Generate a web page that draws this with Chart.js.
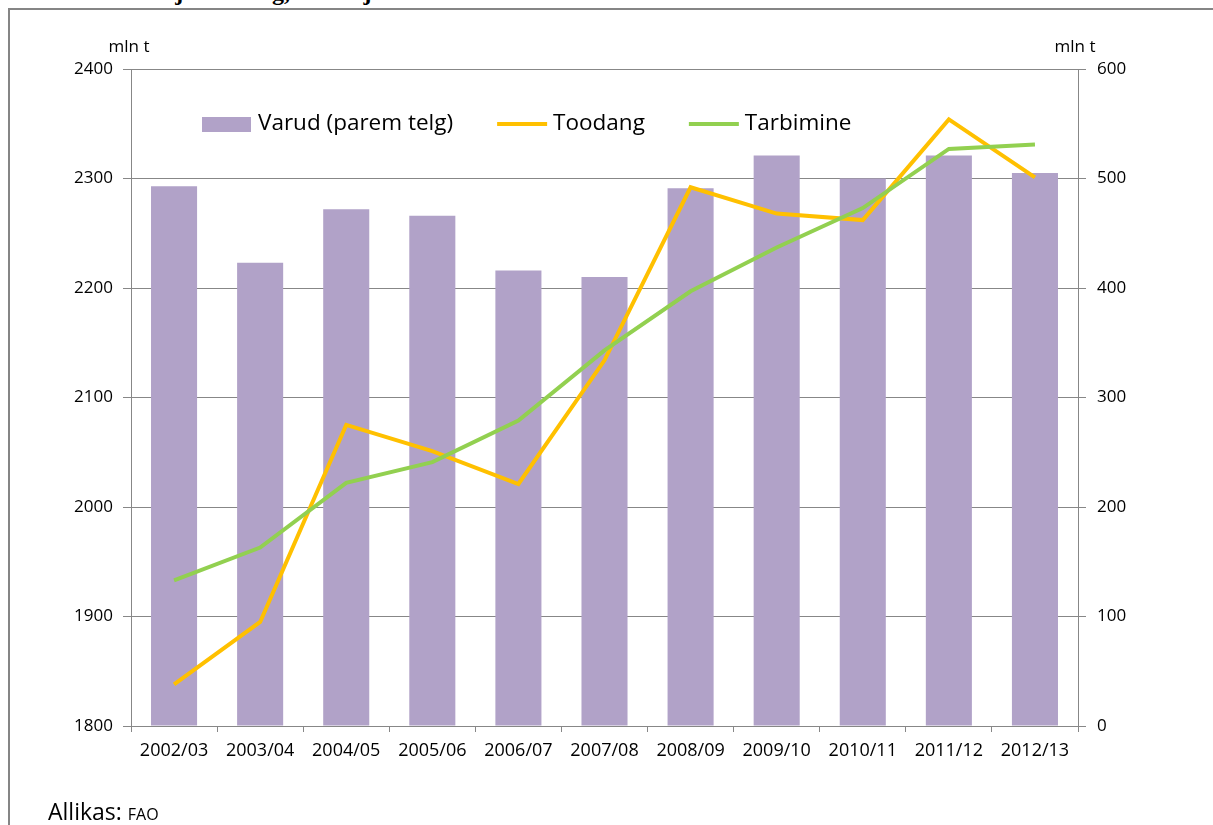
<!DOCTYPE html>
<html>
<head>
<meta charset="utf-8">
<script src="https://cdn.jsdelivr.net/npm/chart.js@4"></script>
<style>
    html, body { margin: 0; padding: 0; background: #fff; overflow: hidden; }
    body { width: 1213px; height: 825px; position: relative; font-family: "Open Sans", sans-serif; }
    .title { position: absolute; left: 8px; top: -20px; font: bold 24px/24px "Liberation Serif", serif; color: #000; white-space: nowrap; }
    .frame { position: absolute; left: 8px; top: 8px; width: 1230px; height: 900px; border: 2px solid #858585; box-sizing: border-box; }
    .source { position: absolute; left: 48px; top: 795px; font-size: 23px; color: #000; }
    .source small { font-size: 16px; }
    #chart { position: absolute; left: 0; top: 0; }
</style>
</head>
<body>
<div class="title">Joonis 1. Teravilja toodang, varud ja tarbimine maailmas</div>
<div class="frame"></div>
<canvas id="chart" width="1213" height="825"></canvas>
<div class="source">Allikas: <small>FAO</small></div>
<script>
// Marketing years
const years = ['2002/03', '2003/04', '2004/05', '2005/06', '2006/07', '2007/08',
               '2008/09', '2009/10', '2010/11', '2011/12', '2012/13'];

// Stocks, mln t (right axis)
const varud = [493, 423, 472, 466, 416, 410, 491, 521, 500, 521, 505];

// Production, mln t (left axis)
const toodang = [1838, 1895, 2075, 2051, 2021, 2134, 2292, 2268, 2262, 2354, 2301];

// Consumption, mln t (left axis)
const tarbimine = [1933, 1963, 2022, 2041, 2079, 2143, 2197, 2237, 2273, 2327, 2331];

const gridColor = '#878787';
const fontFamily = '"Open Sans", sans-serif';

/**
 * Legend and unit labels drawn inside the plot, like the Excel original
 */
const overlayPlugin = {
    id: 'overlay',
    afterDraw(chart) {
        const ctx = chart.ctx;
        const area = chart.chartArea;
        ctx.save();

        // unit labels over both axes
        ctx.fillStyle = '#000';
        ctx.font = '17px ' + fontFamily;
        ctx.textAlign = 'center';
        ctx.textBaseline = 'alphabetic';
        ctx.fillText('mln t', area.left - 2, area.top - 17);
        ctx.fillText('mln t', area.right - 3, area.top - 17);

        // legend row
        ctx.font = '22.5px ' + fontFamily;
        ctx.textAlign = 'left';
        ctx.textBaseline = 'middle';
        let x = 202;
        const y = area.top + 55;
        chart.data.datasets.forEach(ds => {
            if (ds.type === 'bar') {
                ctx.fillStyle = ds.backgroundColor;
                ctx.fillRect(x, y - 7, 49, 15);
            } else {
                ctx.strokeStyle = ds.borderColor;
                ctx.lineWidth = 4;
                ctx.beginPath();
                ctx.moveTo(x, y);
                ctx.lineTo(x + 50, y);
                ctx.stroke();
            }
            ctx.fillStyle = '#000';
            ctx.fillText(ds.label, x + 56, y);
            x += 56 + ctx.measureText(ds.label).width + 44;
        });
        ctx.restore();
    }
};

new Chart(document.getElementById('chart'), {
    data: {
        labels: years,
        datasets: [
            {
                type: 'bar',
                label: 'Varud (parem telg)',
                data: varud,
                yAxisID: 'yRight',
                backgroundColor: '#B1A2C8',
                categoryPercentage: 1,
                barPercentage: 0.535,
                order: 3
            },
            {
                type: 'line',
                label: 'Toodang',
                data: toodang,
                yAxisID: 'yLeft',
                borderColor: '#FFC000',
                backgroundColor: '#FFC000',
                borderWidth: 4,
                pointRadius: 0,
                tension: 0,
                order: 2
            },
            {
                type: 'line',
                label: 'Tarbimine',
                data: tarbimine,
                yAxisID: 'yLeft',
                borderColor: '#92D050',
                backgroundColor: '#92D050',
                borderWidth: 4,
                pointRadius: 0,
                tension: 0,
                order: 1
            }
        ]
    },
    options: {
        responsive: false,
        animation: false,
        layout: { padding: { top: 69, left: 0, right: 0, bottom: 0 } },
        plugins: {
            legend: { display: false },
            tooltip: { enabled: false }
        },
        scales: {
            x: {
                grid: { offset: true, drawOnChartArea: false, color: gridColor, tickLength: 6 },
                border: { color: gridColor },
                ticks: { color: '#000', font: { family: fontFamily, size: 18 }, padding: 8, maxRotation: 0 },
                afterFit: scale => { scale.height = 99; }
            },
            yLeft: {
                position: 'left',
                min: 1800,
                max: 2400,
                ticks: {
                    stepSize: 100, color: '#000', font: { family: fontFamily, size: 17 }, padding: 10,
                    callback: v => String(v)
                },
                grid: { color: gridColor, tickLength: 8 },
                border: { color: gridColor },
                afterFit: scale => { scale.width = 131; }
            },
            yRight: {
                position: 'right',
                min: 0,
                max: 600,
                ticks: {
                    stepSize: 100, color: '#000', font: { family: fontFamily, size: 17 }, padding: 11,
                    callback: v => String(v)
                },
                grid: { drawOnChartArea: false, color: gridColor, tickLength: 8 },
                border: { color: gridColor },
                afterFit: scale => { scale.width = 135; }
            }
        }
    },
    plugins: [overlayPlugin]
});
</script>
</body>
</html>
